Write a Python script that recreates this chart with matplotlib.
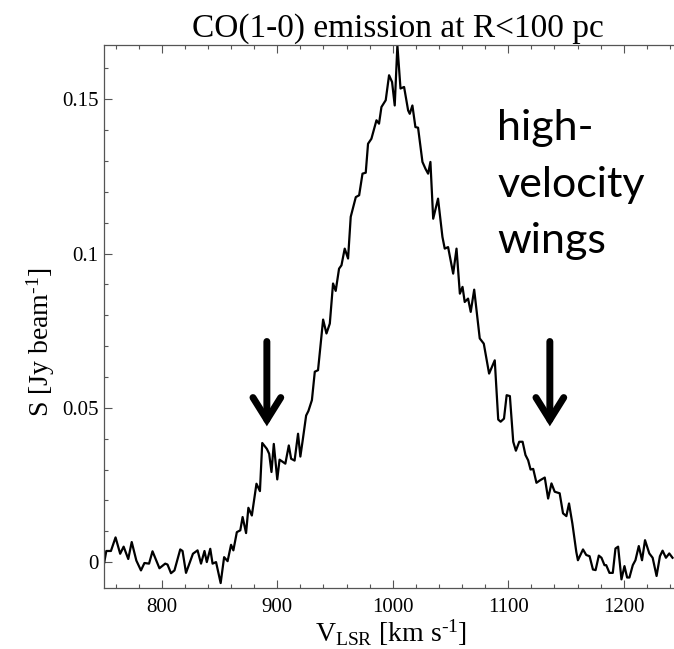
import numpy as np
import matplotlib
matplotlib.use("Agg")
import matplotlib.pyplot as plt
from matplotlib.ticker import MultipleLocator

plt.rcParams['font.family'] = ['Liberation Serif', 'DejaVu Serif']
plt.rcParams['mathtext.fontset'] = 'custom'
plt.rcParams['mathtext.rm'] = 'Liberation Serif'
plt.rcParams['mathtext.it'] = 'Liberation Serif:italic'

# spectre (km/s, Jy/beam)
vel = [750, 752, 756, 760, 764, 767, 771, 774, 778, 782, 785, 789, 792, 798,
       803, 805, 808, 811, 816, 818, 821, 827, 831, 834, 837, 839, 842, 844,
       847, 851, 854, 857, 860, 862, 865, 868, 870, 873, 875, 878, 882, 885,
       887, 891, 893, 895, 897, 900, 902, 905, 907, 910, 912, 915, 918, 920,
       922, 925, 927, 930, 932.5, 935.3, 939.7, 942.6, 945.5, 948.3, 950.6,
       953.5, 955.6, 958.4, 961.3, 963.6, 968, 970.9, 973.8, 976.6, 978.6,
       981.5, 985.9, 988.1, 990.2, 993.9, 996.8, 999.4, 1001.7, 1004, 1006.7,
       1009.8, 1013.3, 1014.7, 1017, 1019.6, 1021.9, 1025.7, 1028.3, 1030.6,
       1032.6, 1035, 1039.2, 1043, 1045, 1047.9, 1052.3, 1055.2, 1058.1,
       1060.4, 1062.3, 1065.2, 1067.5, 1070.5, 1075.3, 1078.8, 1083.4, 1088.3,
       1091.3, 1093.4, 1096.3, 1098.6, 1101.4, 1104.3, 1106.6, 1109.5, 1112.4,
       1114.9, 1117.2, 1119.3, 1121.6, 1124.4, 1127.9, 1131.6, 1134.5, 1137.4,
       1140.2, 1144.5, 1147.4, 1150.3, 1152.6, 1155.5, 1158.9, 1160.3, 1164.7,
       1167.5, 1170.4, 1173.3, 1175.6, 1178.4, 1180.7, 1183.3, 1184.8, 1187.6,
       1190.5, 1192.8, 1195.1, 1198, 1200.6, 1202.9, 1204.9, 1207.8, 1210.1,
       1213, 1215.8, 1218.4, 1222.1, 1225, 1228.4, 1231.3, 1233.6, 1236.5,
       1239.4, 1242.2]
flux = [-0.0005, 0.0036, 0.0036, 0.008, 0.0027, 0.005, 0.001, 0.0065, 0.0005,
        -0.0027, -0.0003, -0.0005, 0.0035, -0.002, -0.0005, -0.0008, -0.0036,
        -0.0027, 0.0041, 0.0036, -0.0035, 0.0027, 0.0038, -0.0005, 0.0036, 0.0,
        0.0043, -0.0005, 0.0, -0.0068, 0.0016, 0.0003, 0.0056, 0.0038, 0.0097,
        0.0103, 0.0146, 0.0094, 0.0176, 0.0151, 0.0254, 0.023, 0.0386, 0.0367,
        0.0351, 0.0292, 0.0383, 0.0268, 0.0332, 0.0324, 0.0319, 0.0378, 0.0335,
        0.0329, 0.0416, 0.0342, 0.0394, 0.0475, 0.049, 0.0525, 0.0617, 0.0622,
        0.0786, 0.0741, 0.0773, 0.0903, 0.0879, 0.0951, 0.0962, 0.1016, 0.0984,
        0.1119, 0.1183, 0.1189, 0.1259, 0.1262, 0.1356, 0.1372, 0.1432, 0.1421,
        0.1475, 0.1497, 0.1578, 0.1556, 0.148, 0.1675, 0.1535, 0.154, 0.1464,
        0.1453, 0.148, 0.141, 0.1408, 0.1297, 0.1275, 0.1259, 0.1297, 0.1113,
        0.1178, 0.1054, 0.1016, 0.1021, 0.0935, 0.1016, 0.087, 0.0892, 0.0843,
        0.0854, 0.0811, 0.0883, 0.0725, 0.0708, 0.0611, 0.0654, 0.0462, 0.0455,
        0.0465, 0.0541, 0.0538, 0.039, 0.0361, 0.039, 0.039, 0.0347, 0.033,
        0.03, 0.0302, 0.0257, 0.0266, 0.0274, 0.0206, 0.0255, 0.0228, 0.0223,
        0.0158, 0.0149, 0.019, 0.0125, 0.0033, 0.0006, 0.0041, 0.0023, 0.0019,
        -0.0024, -0.0026, 0.0021, 0.0014, -0.001, -0.001, -0.0035, -0.0035,
        0.0044, 0.005, -0.0056, -0.0013, -0.005, -0.005, -0.001, 0.0006,
        0.0052, 0.0006, 0.0071, 0.0028, 0.0014, -0.0045, 0.0019, 0.0037,
        0.0014, 0.0028, 0.0014]

# fleches des ailes
arrow_v = [891, 1136]
arrow_top = 0.0715
arrow_tip = 0.044

fig = plt.figure(figsize=(6.74, 6.49), dpi=100)
ax = fig.add_axes([104/674, 61/649, 583.3/674, 543/649])

ax.plot(vel, flux, color='black', lw=1.6, clip_on=True)

for v in arrow_v:
    ax.annotate('', xy=(v, arrow_tip), xytext=(v, arrow_top),
                arrowprops=dict(arrowstyle='->, head_length=0.8, head_width=0.5',
                                lw=5, color='black', shrinkA=0, shrinkB=0,
                                mutation_scale=20, joinstyle='miter'))

ax.set_xlim(750, 1255)
ax.set_ylim(-0.0084, 0.1676)
ax.xaxis.set_major_locator(MultipleLocator(100))
ax.xaxis.set_minor_locator(MultipleLocator(20))
ax.yaxis.set_minor_locator(MultipleLocator(0.01))
ax.set_yticks([0, 0.05, 0.1, 0.15])
ax.set_yticklabels(['0', '0.05', '0.1', '0.15'])

ax.tick_params(which='both', direction='in', top=True, right=False,
               color='#555555', labelsize=15)
ax.tick_params(which='major', length=5.5, width=0.8)
ax.tick_params(which='minor', length=3, width=0.8)
ax.tick_params(axis='x', pad=7)
ax.tick_params(axis='y', pad=4)
for s in ['left', 'bottom', 'top']:
    ax.spines[s].set_color('#555555')
    ax.spines[s].set_linewidth(0.9)
ax.spines['right'].set_visible(False)

fig.text(398/674, 1 - 37/649, 'CO(1-0) emission at R<100 pc', ha='center',
         va='baseline', fontsize=24)
fig.text(391/674, 1 - 633/649, r'V$_{\rm LSR}$ [km s$^{\text{-1}}$]', ha='center',
         va='center', fontsize=20)
fig.text(41/674, 1 - 342/649, r'S [Jy beam$^{\text{-1}}$]', ha='center',
         va='center', rotation=90, fontsize=20)

for i, mot in enumerate(['high-', 'velocity', 'wings']):
    fig.text(497/674, 1 - (140 + 56.5*i)/649, mot, ha='left', va='baseline',
             fontsize=31, family=['Lato', 'DejaVu Sans'])

fig.savefig('out.png', dpi=100)
